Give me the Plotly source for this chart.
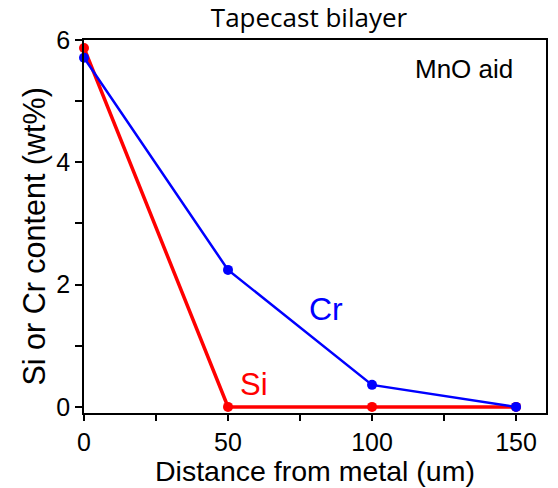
import plotly.graph_objects as go

distance = [0, 50, 100, 150]
si = [5.87, 0.0, 0.0, 0.0]
cr = [5.71, 2.24, 0.36, 0.0]

FONT = "Liberation Sans, Arial"

fig = go.Figure()
fig.add_trace(go.Scatter(x=distance, y=si, mode="lines+markers", name="Si",
                         line=dict(color="#ff0000", width=3.5),
                         marker=dict(color="#ff0000", size=10), cliponaxis=False))
fig.add_trace(go.Scatter(x=distance, y=cr, mode="lines+markers", name="Cr",
                         line=dict(color="#0000ff", width=2.5),
                         marker=dict(color="#0000ff", size=10), cliponaxis=False))

axis_common = dict(showline=True, linecolor="black", linewidth=1.5, mirror=True,
                   ticks="outside", tickcolor="black", tickwidth=1.5,
                   showgrid=False, zeroline=False,
                   tickfont=dict(family=FONT, size=25, color="black"))

fig.update_xaxes(range=[0, 160.4], tickvals=[0, 50, 100, 150], ticklen=6,
                 minor=dict(tickvals=[25, 75, 125], ticks="outside", ticklen=6,
                            tickcolor="black", tickwidth=1.5),
                 **axis_common)
fig.update_yaxes(range=[-0.1, 6], tickvals=[0, 2, 4, 6], ticklen=7,
                 minor=dict(tickvals=[1, 3, 5], ticks="outside", ticklen=7,
                            tickcolor="black", tickwidth=1.5),
                 **axis_common)

# axis titles
fig.add_annotation(x=0.5, y=0, xref="paper", yref="paper", text="Distance from metal (um)",
                   showarrow=False, xanchor="center", yanchor="bottom", yshift=-75, borderpad=0,
                   font=dict(family=FONT, size=28.5, color="black"))
fig.add_annotation(x=0, y=0.5, xref="paper", yref="paper", text="Si or Cr content (wt%)",
                   showarrow=False, xanchor="center", yanchor="middle", xshift=-50, yshift=-10,
                   textangle=-90, font=dict(family=FONT, size=30.5, color="black"))

# series labels
fig.add_annotation(x=84, y=1.6, xref="x", yref="y", text="Cr", showarrow=False,
                   font=dict(family=FONT, size=32, color="#0000ff"))
fig.add_annotation(x=59, y=0.36, xref="x", yref="y", text="Si", showarrow=False,
                   font=dict(family=FONT, size=31, color="#ff0000"))
fig.add_annotation(x=1.0, y=1.0, xref="paper", yref="paper", text="MnO aid",
                   showarrow=False, xanchor="right", yanchor="middle", xshift=-31, yshift=-29,
                   font=dict(family=FONT, size=26, color="black"))

fig.update_layout(
    width=558, height=488,
    margin=dict(l=84, r=10, t=40, b=75),
    paper_bgcolor="white", plot_bgcolor="white",
    showlegend=False,
    title=dict(text="Tapecast bilayer", x=309/558, xanchor="center", y=1 - 18/488, yanchor="middle",
               font=dict(family="Open Sans", size=26, color="black")),
)

fig.write_html("out.html")
